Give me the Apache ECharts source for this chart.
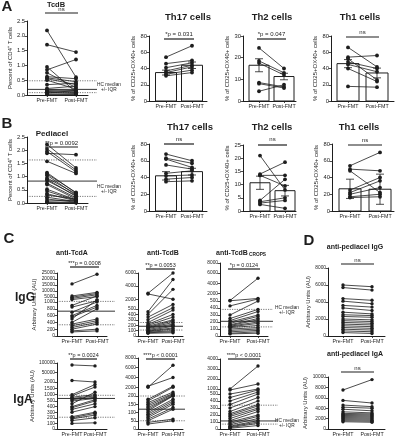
<!DOCTYPE html>
<html>
<head>
<meta charset="utf-8">
<script src="https://cdn.jsdelivr.net/npm/echarts@6.0.0/dist/echarts.min.js"></script>
<style>
html,body{margin:0;padding:0;background:#fff;}
#chart{width:408px;height:440px;}
</style>
</head>
<body>
<div id="chart"></div>
<script>
// ================= DATA =================
const xLabels = ['Pre-FMT', 'Post-FMT'];

// ---- Panel A ----
const aTcdB_pre  = [2.18, 1.70, 0.95, 0.85, 0.75, 0.62, 0.58, 0.55, 0.50, 0.35, 0.22, 0.18, 0.15, 0.12, 0.10, 0.07, 0.04, 0.02];
const aTcdB_post = [0.60, 1.45, 0.10, 1.20, 0.25, 0.55, 0.45, 0.35, 0.20, 0.40, 0.30, 0.15, 0.12, 0.08, 0.05, 0.15, 0.03, 0.02];
const aTcdB_hc   = [0.48, 0.19, 0.08];
const aTcdB_ticks = [0, 0.5, 1.0, 1.5, 2.0, 2.5];

const aTh17_pre  = [54, 46, 41, 37, 35, 33, 31];
const aTh17_post = [68, 50, 47, 44, 42, 38, 35];
const aTh17_mean = [35, 44];
const aTh17_err  = [3, 4];
const aTh17_ticks = [0, 20, 40, 60, 80];

const aTh2_pre  = [24.5, 18.5, 17.5, 8.5, 8.0, 4.5];
const aTh2_post = [15.0, 13.0, 12.0, 6.5, 6.0, 7.5];
const aTh2_mean = [16.5, 11.3];
const aTh2_err  = [3.0, 1.5];
const aTh2_ticks = [0, 10, 20, 30];

const aTh1_pre  = [66, 54, 52, 48, 45, 40, 18];
const aTh1_post = [42, 56, 26, 40, 36, 24, 17];
const aTh1_mean = [46, 34.5];
const aTh1_err  = [5, 6];
const aTh1_ticks = [0, 20, 40, 60, 80];

// ---- Panel B ----
const bPed_pre  = [2.22, 2.05, 1.95, 1.88, 1.58, 1.15, 1.10, 1.05, 0.95, 0.90, 0.85, 0.75, 0.70, 0.52, 0.45, 0.35, 0.30, 0.22, 0.15, 0.08, 0.04, 0.02];
const bPed_post = [1.33, 1.25, 1.18, 1.83, 1.12, 0.38, 0.40, 0.30, 0.35, 0.25, 0.28, 0.20, 0.15, 0.12, 0.10, 0.08, 0.15, 0.05, 0.03, 0.10, 0.02, 0.01];
const bPed_hc   = [1.63, 0.83, 0.25];
const bPed_ticks = [0, 0.5, 1.0, 1.5, 2.0, 2.5];

const bTh17_pre  = [68, 63, 62, 55, 45, 42, 38, 35];
const bTh17_post = [60, 57, 52, 50, 48, 43, 40, 36];
const bTh17_mean = [42, 47];
const bTh17_err  = [5, 4];
const bTh17_ticks = [0, 20, 40, 60, 80];

const bTh2_pre  = [21.0, 14.0, 13.5, 13.5, 4.0, 3.5, 3.0, 2.5];
const bTh2_post = [8.0, 18.5, 9.5, 13.5, 12.0, 5.0, 4.0, 1.0];
const bTh2_mean = [10.7, 7.7];
const bTh2_err  = [2.5, 2.0];
const bTh2_ticks = [0, 5, 10, 15, 20, 25];

const bTh1_pre  = [54, 50, 48, 25, 22, 20, 17, 16];
const bTh1_post = [70, 48, 22, 40, 36, 28, 20, 17];
const bTh1_mean = [26.5, 26];
const bTh1_err  = [11.5, 18];
const bTh1_ticks = [0, 20, 40, 60, 80];

// ---- Panel C (IgG) ----
const cGA_pre  = [16000, 6000, 5000, 4000, 3000, 900, 850, 700, 600, 560, 500, 400, 350, 300, 250, 200, 150, 120];
const cGA_post = [24000, 9000, 8000, 7000, 5500, 6000, 2000, 1000, 900, 850, 3000, 800, 500, 450, 400, 350, 200, 150];
const cGA_hc   = [1500, 730, 330];
const cGA_ticks = [0, 200, 400, 600, 800, 1000, 5000, 10000, 15000, 20000, 25000];

const cGB_pre  = [2800, 2900, 450, 400, 350, 300, 250, 220, 200, 180, 160, 150, 140, 120, 100, 90, 80, 70, 60, 50];
const cGB_post = [2000, 6000, 5000, 3500, 1200, 700, 480, 400, 350, 300, 280, 250, 220, 200, 180, 150, 130, 100, 80, 60];
const cGB_hc   = [250, 180, 110];
const cGB_ticks = [0, 100, 200, 300, 400, 500, 2000, 4000, 6000];

const cGC_pre  = [600, 550, 430, 300, 250, 220, 200, 180, 160, 150, 140, 130, 120, 100, 80, 60, 40, 30];
const cGC_post = [5000, 1000, 900, 500, 380, 350, 300, 280, 250, 230, 200, 180, 150, 120, 100, 80, 60, 40];
const cGC_hc   = [380, 210, 130];
const cGC_ticks = [0, 100, 200, 300, 400, 500, 2000, 4000, 6000, 8000];

// ---- Panel C (IgA) ----
const cAA_pre  = [90000, 10000, 1000, 900, 800, 700, 600, 500, 450, 400, 380, 350, 300, 220, 200, 180, 150, 100];
const cAA_post = [85000, 2000, 1800, 1600, 1000, 900, 800, 700, 1200, 600, 500, 450, 400, 300, 280, 250, 200, 110];
const cAA_hc   = [950, 700, 210];
const cAA_ticks = [0, 100, 200, 300, 400, 500, 1000, 1500, 2000, 50000, 100000];

const cAB_pre  = [2000, 2200, 180, 170, 160, 150, 140, 130, 120, 110, 100, 90, 80, 70, 60, 50, 40, 30];
const cAB_post = [6500, 4000, 2200, 2000, 1000, 700, 500, 300, 250, 200, 180, 170, 160, 150, 130, 120, 60, 50];
const cAB_hc   = [200, 120, 50];
const cAB_ticks = [0, 50, 100, 150, 200, 2000, 4000, 6000, 8000];

const cAC_pre  = [1000, 900, 500, 450, 400, 350, 300, 250, 220, 200, 180, 150, 120, 100, 80, 60, 40, 30, 20, 10];
const cAC_post = [3300, 1500, 1000, 900, 700, 500, 450, 400, 350, 330, 300, 280, 250, 200, 180, 150, 120, 100, 80, 50];
const cAC_hc   = [340, 115, 70];
const cAC_ticks = [0, 100, 200, 300, 400, 500, 1000, 2000, 3000, 4000];

// ---- Panel D ----
const dG_pre  = [6000, 5700, 4400, 4100, 3600, 3300, 2800, 2500, 2300, 2000, 1800, 1600, 1400, 1200, 1000, 800, 600, 400];
const dG_post = [5800, 5400, 4200, 3800, 3400, 3000, 2600, 2400, 2200, 1900, 1700, 1500, 1300, 1100, 900, 700, 500, 300];
const dG_ticks = [0, 2000, 4000, 6000, 8000];

const dA_pre  = [7500, 5500, 4600, 4200, 3800, 3300, 3000, 2800, 2600, 2400, 2200, 2000, 1800, 1600, 1400];
const dA_post = [9500, 5000, 4300, 4000, 3500, 3100, 2900, 2700, 2500, 2300, 2100, 1900, 1700, 1500, 1300];
const dA_ticks = [0, 2000, 4000, 6000, 8000, 10000];

// ================= BUILD =================
const FONT = '"Liberation Sans", Arial, sans-serif';
const INK = '#1e1e1e';
const option = {animation: false, backgroundColor: '#fff', grid: [], xAxis: [], yAxis: [], series: [], graphic: {elements: []}};
const G = option.graphic.elements;

function txt(x, y, s, size, bold, align) {
  G.push({type: 'text', x: x, y: y, silent: true, style: {text: s, fontSize: size, fontWeight: bold ? 'bold' : 'normal', fontFamily: FONT, fill: INK, align: align || 'center', verticalAlign: 'middle'}});
}
function seg(x1, y1, x2, y2, w) {
  G.push({type: 'line', silent: true, shape: {x1: x1, y1: y1, x2: x2, y2: y2}, style: {stroke: INK, lineWidth: w || 1}});
}

function panel(p) {
  const gi = option.grid.length;
  let f, yMax, y0, ytop;
  if (p.knots) {
    const k = p.knots; y0 = k[0][1]; ytop = k[k.length - 1][1];
    f = v => {
      for (let i = 1; i < k.length; i++) {
        if (v <= k[i][0] || i === k.length - 1) {
          const v0 = k[i - 1][0], p0 = k[i - 1][1], v1 = k[i][0], p1 = k[i][1];
          return (y0 - p0) + (v - v0) / (v1 - v0) * (p0 - p1);
        }
      }
    };
    yMax = y0 - ytop;
  } else {
    y0 = p.y0; ytop = p.ytop; f = v => v; yMax = p.max;
  }
  option.grid.push({left: p.L, top: ytop, width: p.R - p.L, height: y0 - ytop});
  const s = p.P1 - p.P0;
  const xmin = -(p.P0 - p.L) / s, xmax = 1 + (p.R - p.P1) / s;
  option.xAxis.push({
    type: 'value', gridIndex: gi, min: xmin, max: xmax,
    axisLine: {show: true, onZero: false, lineStyle: {color: INK, width: 1}},
    splitLine: {show: false},
    axisTick: {show: true, customValues: [0, 1], length: 2, lineStyle: {color: INK, width: 0.8}},
    axisLabel: {show: true, customValues: [0, 1], hideOverlap: false, showMinLabel: true, showMaxLabel: true,
      formatter: v => xLabels[Math.round(v)], fontSize: p.xfs || 5.3, color: INK, margin: 3, fontFamily: FONT}
  });
  const tickPos = p.ticks.map(f);
  const labelOf = {};
  p.ticks.forEach((t, i) => { labelOf[(+tickPos[i]).toFixed(3)] = p.dec ? t.toFixed(p.dec) : String(t); });
  option.yAxis.push({
    type: 'value', gridIndex: gi, min: 0, max: yMax,
    axisLine: {show: true, onZero: false, lineStyle: {color: INK, width: 1}},
    splitLine: {show: false},
    axisTick: {show: true, customValues: tickPos, length: 2.5, lineStyle: {color: INK, width: 0.8}},
    axisLabel: {show: true, customValues: tickPos, hideOverlap: false, formatter: v => { const l = labelOf[(+v).toFixed(3)]; return l === undefined ? '' : l; }, fontSize: p.yfs || 5.8, color: INK, margin: 2, fontFamily: FONT},
    name: p.yname || '', nameLocation: 'middle', nameGap: p.nameGap || 14, nameRotate: 90,
    nameTextStyle: {fontSize: p.nfs || 6, color: INK, fontFamily: FONT}
  });
  const R = p.r || 1.9;
  if (p.mean) {
    const bw = p.bw || 19;
    option.series.push({type: 'custom', xAxisIndex: gi, yAxisIndex: gi, clip: false, silent: true, z: 2,
      data: p.mean.map((m, i) => [i, f(m)]),
      renderItem: (params, api) => {
        const i = api.value(0);
        const t = api.coord([i, api.value(1)]), b = api.coord([i, 0]);
        return {type: 'rect', shape: {x: t[0] - bw / 2, y: t[1], width: bw, height: b[1] - t[1]}, style: {fill: '#fff', stroke: INK, lineWidth: 1}};
      }});
  }
  if (p.hc) {
    const L = p.hcLen;
    option.series.push({type: 'custom', xAxisIndex: gi, yAxisIndex: gi, clip: false, silent: true, z: 2,
      data: p.hc.map(v => [xmin, f(v)]),
      renderItem: (params, api) => {
        const c = api.coord([api.value(0), api.value(1)]);
        const dashed = params.dataIndex !== 1;
        return {type: 'line', shape: {x1: c[0], y1: c[1], x2: c[0] + L, y2: c[1]}, style: {stroke: INK, lineWidth: dashed ? 0.8 : 0.9, lineDash: dashed ? [1.2, 1.2] : null, opacity: dashed ? 0.75 : 1}};
      }});
  }
  option.series.push({type: 'custom', xAxisIndex: gi, yAxisIndex: gi, clip: false, silent: true, z: 3,
    data: p.pre.map((v, i) => [f(v), f(p.post[i])]),
    renderItem: (params, api) => {
      const a = api.coord([0, api.value(0)]), b = api.coord([1, api.value(1)]);
      return {type: 'group', children: [
        {type: 'line', shape: {x1: a[0], y1: a[1], x2: b[0], y2: b[1]}, style: {stroke: INK, lineWidth: 0.8}},
        {type: 'circle', shape: {cx: a[0], cy: a[1], r: R}, style: {fill: INK}},
        {type: 'circle', shape: {cx: b[0], cy: b[1], r: R}, style: {fill: INK}}
      ]};
    }});
  if (p.mean && p.err) {
    option.series.push({type: 'custom', xAxisIndex: gi, yAxisIndex: gi, clip: false, silent: true, z: 4,
      data: p.mean.map((m, i) => [i, f(m + p.err[i]), f(m - p.err[i])]),
      renderItem: (params, api) => {
        const i = api.value(0);
        const t = api.coord([i, api.value(1)]), b = api.coord([i, api.value(2)]);
        const cw = 4;
        return {type: 'group', children: [
          {type: 'line', shape: {x1: t[0], y1: t[1], x2: b[0], y2: b[1]}, style: {stroke: INK, lineWidth: 0.8}},
          {type: 'line', shape: {x1: t[0] - cw, y1: t[1], x2: t[0] + cw, y2: t[1]}, style: {stroke: INK, lineWidth: 0.8}},
          {type: 'line', shape: {x1: b[0] - cw, y1: b[1], x2: b[0] + cw, y2: b[1]}, style: {stroke: INK, lineWidth: 0.8}}
        ]};
      }});
  }
  if (p.sig) {
    seg(p.P0 - 2, p.sig.by, p.P1 + 2, p.sig.by, 1.2);
    txt((p.P0 + p.P1) / 2, p.sig.ty, p.sig.text, p.sig.fs || 6);
  }
}

// ----- Panel A -----
panel({L: 27, R: 88, P0: 47, P1: 76, y0: 95, ytop: 21, max: 2.5, ticks: aTcdB_ticks, dec: 1,
  pre: aTcdB_pre, post: aTcdB_post, hc: aTcdB_hc, hcLen: 70,
  yname: 'Percent of CD4\u207A T cells', nameGap: 13, sig: {text: 'ns', ty: 9, by: 13}});
panel({L: 149, R: 207, P0: 166, P1: 192, y0: 101, ytop: 36, max: 80, ticks: aTh17_ticks,
  pre: aTh17_pre, post: aTh17_post, mean: aTh17_mean, err: aTh17_err, bw: 21,
  yname: '% of CD25+OX40+ cells', nameGap: 12, sig: {text: '*p = 0.031', ty: 34, by: 39}});
panel({L: 243, R: 296, P0: 259, P1: 284, y0: 101, ytop: 36, max: 30, ticks: aTh2_ticks,
  pre: aTh2_pre, post: aTh2_post, mean: aTh2_mean, err: aTh2_err, bw: 20,
  yname: '% of CD25+OX40+ cells', nameGap: 12, sig: {text: '*p = 0.047', ty: 34, by: 39}});
panel({L: 331, R: 394, P0: 348, P1: 377, y0: 101, ytop: 36, max: 80, ticks: aTh1_ticks,
  pre: aTh1_pre, post: aTh1_post, mean: aTh1_mean, err: aTh1_err, bw: 22,
  yname: '% of CD25+OX40+ cells', nameGap: 12, sig: {text: 'ns', ty: 32, by: 37}});

// ----- Panel B -----
panel({L: 27, R: 88, P0: 47, P1: 76, y0: 203, ytop: 137, max: 2.5, ticks: bPed_ticks, dec: 1,
  pre: bPed_pre, post: bPed_post, hc: bPed_hc, hcLen: 70,
  yname: 'Percent of CD4\u207A T cells', nameGap: 13, sig: {text: '**p = 0.0092', ty: 143, by: 147}});
panel({L: 149, R: 207, P0: 166, P1: 192, y0: 211, ytop: 144, max: 80, ticks: bTh17_ticks,
  pre: bTh17_pre, post: bTh17_post, mean: bTh17_mean, err: bTh17_err, bw: 21,
  yname: '% of CD25+OX40+ cells', nameGap: 12, sig: {text: 'ns', ty: 139, by: 144}});
panel({L: 243, R: 296, P0: 260, P1: 285, y0: 211, ytop: 145, max: 25, ticks: bTh2_ticks,
  pre: bTh2_pre, post: bTh2_post, mean: bTh2_mean, err: bTh2_err, bw: 20,
  yname: '% of CD25+OX40+ cells', nameGap: 12, sig: {text: 'ns', ty: 139, by: 145}});
panel({L: 332, R: 394, P0: 350, P1: 380, y0: 211, ytop: 144, max: 80, ticks: bTh1_ticks,
  pre: bTh1_pre, post: bTh1_post, mean: bTh1_mean, err: bTh1_err, bw: 22,
  yname: '% of CD25+OX40+ cells', nameGap: 12, sig: {text: 'ns', ty: 140, by: 145}});

// ----- Panel C IgG -----
panel({L: 57, R: 107, P0: 72, P1: 97, knots: [[0, 336], [1000, 302], [25000, 273]], ticks: cGA_ticks, yfs: 4.8,
  pre: cGA_pre, post: cGA_post, hc: cGA_hc, hcLen: 58, r: 1.7,
  yname: 'Arbitrary Units (AU)', nameGap: 18, sig: {text: '***p = 0.0008', ty: 263, by: 267, fs: 5.5}});
panel({L: 138, R: 183, P0: 148, P1: 173, knots: [[0, 336], [500, 309], [6000, 273]], ticks: cGB_ticks, yfs: 4.8,
  pre: cGB_pre, post: cGB_post, hc: cGB_hc, hcLen: 45, r: 1.7,
  sig: {text: '**p = 0.0053', ty: 265, by: 269, fs: 5.5}});
panel({L: 220, R: 268, P0: 230, P1: 258, knots: [[0, 336], [500, 301], [8000, 263]], ticks: cGC_ticks, yfs: 4.8,
  pre: cGC_pre, post: cGC_post, hc: cGC_hc, hcLen: 53, r: 1.7,
  sig: {text: '*p = 0.0124', ty: 265, by: 269, fs: 5.5}});

// ----- Panel C IgA -----
panel({L: 57, R: 107, P0: 72, P1: 95, knots: [[0, 429], [500, 401], [2000, 382], [100000, 363]], ticks: cAA_ticks, yfs: 4.8,
  pre: cAA_pre, post: cAA_post, hc: cAA_hc, hcLen: 58, r: 1.7,
  yname: 'Arbitrary Units (AU)', nameGap: 18, sig: {text: '**p = 0.0024', ty: 355, by: 359, fs: 5.5}});
panel({L: 138, R: 183, P0: 148, P1: 173, knots: [[0, 429], [200, 396], [8000, 358]], ticks: cAB_ticks, yfs: 4.8,
  pre: cAB_pre, post: cAB_post, hc: cAB_hc, hcLen: 47, r: 1.7,
  sig: {text: '****p < 0.0001', ty: 355, by: 359, fs: 5.5}});
panel({L: 220, R: 268, P0: 230, P1: 258, knots: [[0, 429], [500, 394], [4000, 359]], ticks: cAC_ticks, yfs: 4.8,
  pre: cAC_pre, post: cAC_post, hc: cAC_hc, hcLen: 58, r: 1.7,
  sig: {text: '****p < 0.0001', ty: 355, by: 359, fs: 5.5}});

// ----- Panel D -----
panel({L: 328, R: 385, P0: 343, P1: 372, y0: 336, ytop: 268, max: 8000, ticks: dG_ticks, yfs: 4.8,
  pre: dG_pre, post: dG_post, r: 1.7,
  yname: 'Arbitrary Units (AU)', nameGap: 15, sig: {text: 'ns', ty: 260, by: 264}});
panel({L: 328, R: 385, P0: 343, P1: 372, y0: 429, ytop: 377, max: 10000, ticks: dA_ticks, yfs: 4.8,
  pre: dA_pre, post: dA_post, r: 1.7,
  yname: 'Arbitrary Units (AU)', nameGap: 15, sig: {text: 'ns', ty: 368, by: 372}});

// ----- Titles and labels -----
txt(7, 7, 'A', 15, true);
txt(7, 124, 'B', 15, true);
txt(9, 239, 'C', 15, true);
txt(309, 241, 'D', 15, true);

txt(56, 5, 'TcdB', 7.5, true);
txt(188, 17, 'Th17 cells', 9.5, true);
txt(272, 17, 'Th2 cells', 9.5, true);
txt(360, 17, 'Th1 cells', 9.5, true);

txt(52, 134, 'Pediacel', 8, true);
txt(190, 127, 'Th17 cells', 9.5, true);
txt(272, 127, 'Th2 cells', 9.5, true);
txt(359, 127, 'Th1 cells', 9.5, true);

txt(72, 253, 'anti-TcdA', 7, true);
txt(163, 253, 'anti-TcdB', 7, true);
txt(232, 253, 'anti-TcdB', 7, true);
txt(249, 255, 'CROPS', 4.8, true, 'left');
txt(25, 298, 'IgG', 12, true);
txt(23, 400, 'IgA', 12, true);

txt(355, 247, 'anti-pediacel IgG', 7, true);
txt(355, 354, 'anti-pediacel IgA', 7, true);

function hcText(x, y) { txt(x, y, 'HC median', 4.8, false, 'left'); txt(x + 4, y + 5, '+/- IQR', 4.8, false, 'left'); }
hcText(97, 85);
hcText(97, 187);
hcText(275, 308);
hcText(275, 421);

const chart = echarts.init(document.getElementById('chart'), null, {renderer: 'canvas'});
chart.setOption(option);
</script>
</body>
</html>
